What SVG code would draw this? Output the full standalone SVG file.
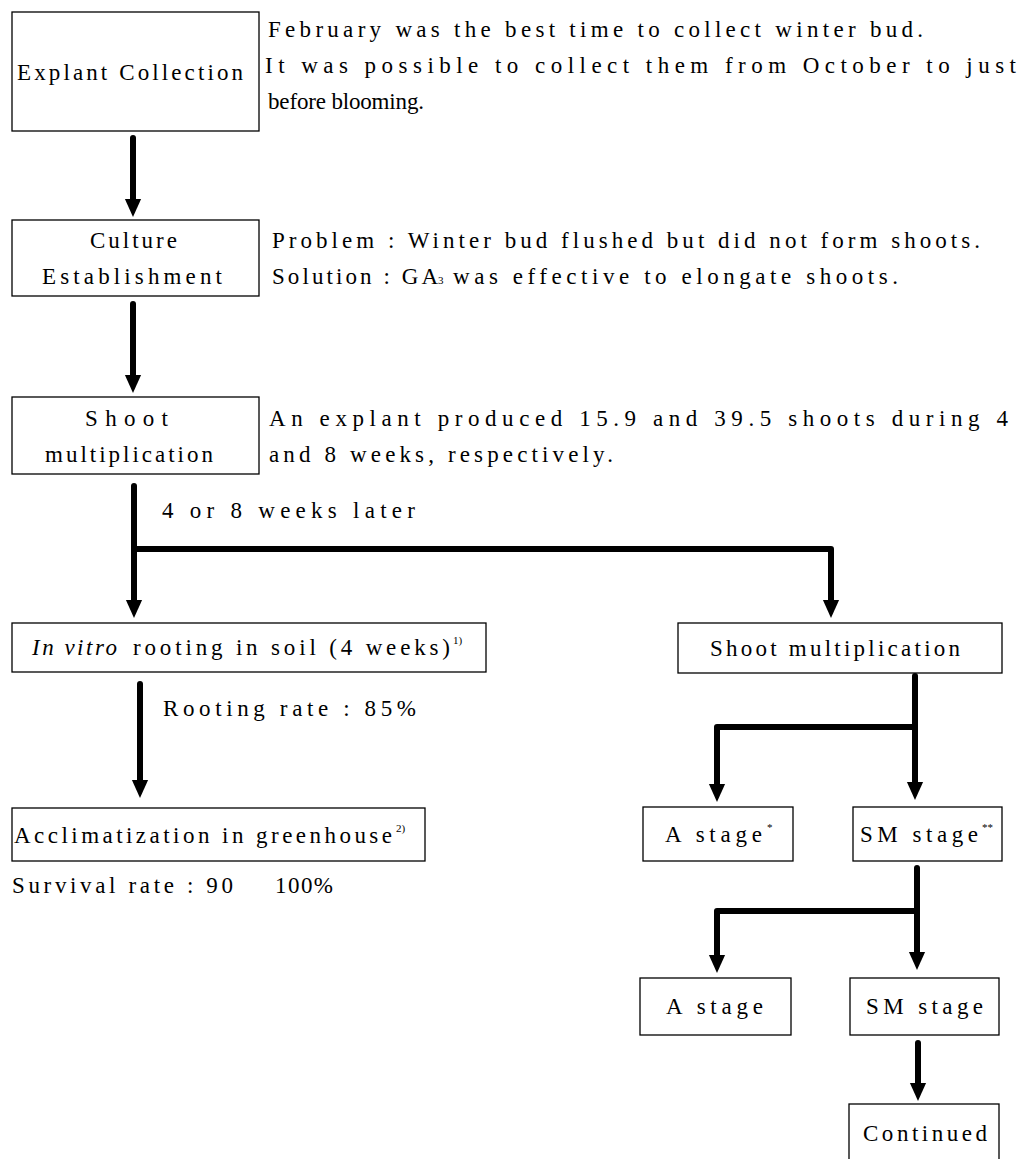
<svg xmlns="http://www.w3.org/2000/svg" width="1024" height="1159" viewBox="0 0 1024 1159">
<defs>
<style>
text{font-family:"Liberation Serif","Times New Roman",serif;font-size:23px;fill:#000}
.box{fill:#fff;stroke:#000;stroke-width:1.3}
.c{fill:none;stroke:#000;stroke-width:6;stroke-linecap:round;stroke-linejoin:round}
.sup{font-size:11px}
.sub{font-size:11px}
</style>
<marker id="ah" markerUnits="userSpaceOnUse" markerWidth="18" markerHeight="20" refX="0" refY="9" orient="auto" viewBox="0 0 20 18">
<path d="M0,0 L20,9 L0,18 Z" fill="#000"/>
</marker>
</defs>
<rect width="1024" height="1159" fill="#fff"/>

<g id="connectors">
<path class="c" d="M133,138 V199" marker-end="url(#ah)"/>
<path class="c" d="M133,304 V375" marker-end="url(#ah)"/>
<path class="c" d="M134,486 V600" marker-end="url(#ah)"/>
<path class="c" d="M134,549 H831 V600" marker-end="url(#ah)"/>
<path class="c" d="M140,684 V780" marker-end="url(#ah)"/>
<path class="c" d="M915,676 V782" marker-end="url(#ah)"/>
<path class="c" d="M915,727 H717 V784" marker-end="url(#ah)"/>
<path class="c" d="M917,868 V952" marker-end="url(#ah)"/>
<path class="c" d="M917,911 H717 V955" marker-end="url(#ah)"/>
<path class="c" d="M918,1043 V1083" marker-end="url(#ah)"/>
</g>

<g id="explant-collection">
<rect class="box" x="12" y="12" width="247" height="119"/>
<text x="17" y="80" textLength="226" lengthAdjust="spacing">Explant Collection</text>
</g>
<g id="note-collection">
<text x="268" y="37" textLength="655" lengthAdjust="spacing">February was the best time to collect winter bud.</text>
<text x="265" y="73" textLength="751" lengthAdjust="spacing">It was possible to collect them from October to just</text>
<text x="268" y="109" textLength="156" lengthAdjust="spacing">before blooming.</text>
</g>

<g id="culture-establishment">
<rect class="box" x="12" y="220" width="247" height="76"/>
<text x="90" y="248" textLength="87" lengthAdjust="spacing">Culture</text>
<text x="42" y="284" textLength="180" lengthAdjust="spacing">Establishment</text>
</g>
<g id="note-culture">
<text x="272" y="248" textLength="708" lengthAdjust="spacing">Problem : Winter bud flushed but did not form shoots.</text>
<text x="272" y="284" textLength="166" lengthAdjust="spacing">Solution : GA</text>
<text x="438" y="284" class="sub">3</text>
<text x="453" y="284" textLength="445" lengthAdjust="spacing">was effective to elongate shoots.</text>
</g>

<g id="shoot-multiplication-1">
<rect class="box" x="12" y="397" width="247" height="77"/>
<text x="85" y="426" textLength="83" lengthAdjust="spacing">Shoot</text>
<text x="45" y="462" textLength="168" lengthAdjust="spacing">multiplication</text>
</g>
<g id="note-shoot">
<text x="269" y="426" textLength="739" lengthAdjust="spacing">An explant produced 15.9 and 39.5 shoots during 4</text>
<text x="269" y="462" textLength="344" lengthAdjust="spacing">and 8 weeks, respectively.</text>
</g>

<g id="label-later">
<text x="162" y="518" textLength="253" lengthAdjust="spacing">4 or 8 weeks later</text>
</g>

<g id="in-vitro-rooting">
<rect class="box" x="12" y="623" width="474" height="49"/>
<text x="32" y="655" textLength="85" lengthAdjust="spacing" font-style="italic">In vitro</text>
<text x="133" y="655" textLength="317" lengthAdjust="spacing">rooting in soil (4 weeks)</text>
<text x="453" y="644" class="sup">1)</text>
</g>

<g id="label-rooting">
<text x="163" y="716" textLength="253" lengthAdjust="spacing">Rooting rate : 85%</text>
</g>

<g id="acclimatization">
<rect class="box" x="12" y="808" width="413" height="53"/>
<text x="14" y="843" textLength="378" lengthAdjust="spacing">Acclimatization in greenhouse</text>
<text x="396" y="832" class="sup">2)</text>
</g>

<g id="label-survival">
<text x="12" y="893" textLength="221" lengthAdjust="spacing">Survival rate : 90</text>
<text x="275" y="893" textLength="58" lengthAdjust="spacing">100%</text>
</g>

<g id="shoot-multiplication-2">
<rect class="box" x="678" y="623" width="324" height="50"/>
<text x="710" y="656" textLength="250" lengthAdjust="spacing">Shoot multiplication</text>
</g>

<g id="a-stage-1">
<rect class="box" x="643" y="807" width="150" height="54"/>
<text x="665" y="842" textLength="97" lengthAdjust="spacing">A stage</text>
<text x="767" y="831" class="sup">*</text>
</g>

<g id="sm-stage-1">
<rect class="box" x="853" y="807" width="149" height="54"/>
<text x="860" y="842" textLength="118" lengthAdjust="spacing">SM stage</text>
<text x="982" y="831" class="sup">**</text>
</g>

<g id="a-stage-2">
<rect class="box" x="640" y="978" width="151" height="57"/>
<text x="666" y="1014" textLength="97" lengthAdjust="spacing">A stage</text>
</g>

<g id="sm-stage-2">
<rect class="box" x="850" y="978" width="149" height="57"/>
<text x="866" y="1014" textLength="117" lengthAdjust="spacing">SM stage</text>
</g>

<g id="continued">
<rect class="box" x="849" y="1104" width="150" height="60"/>
<text x="863" y="1141" textLength="124" lengthAdjust="spacing">Continued</text>
</g>
</svg>
